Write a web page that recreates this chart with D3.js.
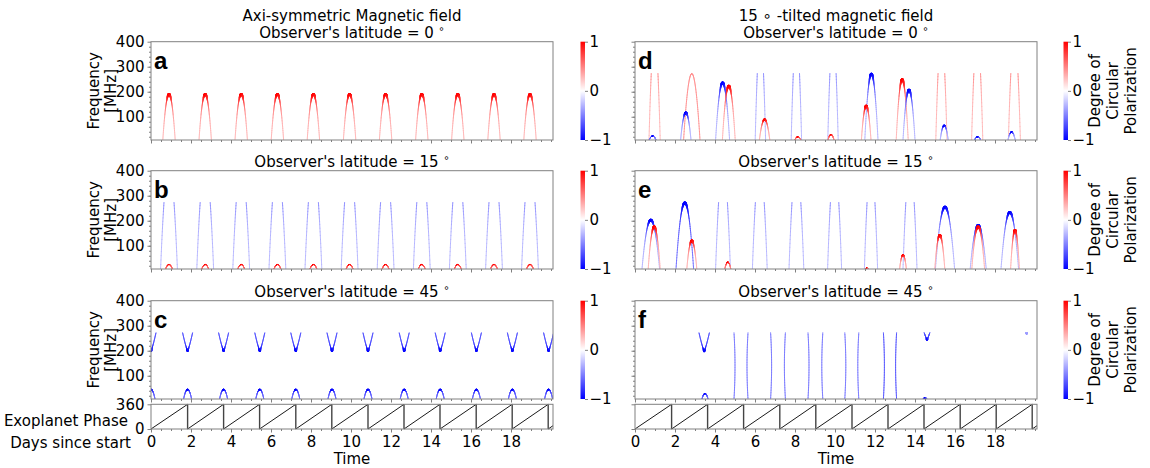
<!DOCTYPE html>
<html>
<head>
<meta charset="utf-8">
<script src="https://cdn.jsdelivr.net/npm/d3@7/dist/d3.min.js"></script>
<style>
  body { margin: 0; background: #fff; }
  text { font-family: "DejaVu Sans", sans-serif; fill: #000; }
</style>
</head>
<body>
<svg id="chart" width="1150" height="468"></svg>
<script>
// --- 1. DATA ---
const dayTicks = [0, 2, 4, 6, 8, 10, 12, 14, 16, 18];
const freqTicks = [100, 200, 300, 400];
const phaseTicks = [0, 360];
const cbarTicks = [-1, 0, 1];
const cbarLabels = ["\u22121", "0", "1"];
const colTitles = ["Axi-symmetric Magnetic field", "15 \u2218 -tilted magnetic field"];
const latitudes = [0, 15, 45];
const panelLetters = [["a", "b", "c"], ["d", "e", "f"]];

// exoplanet phase: day of each wrap to 0, then last (day, phase)
const phaseResets = [0, 1.83, 3.63, 5.43, 7.24, 9.04, 10.85, 12.65, 14.45, 16.26, 18.06, 19.86];
const phaseEnd = [20.1, 48];

// caps (inverted arcs): [centre day, half-width day, peak MHz, polarization, intensity floor]
const capsA = [
  [0.90, 0.31, 190, 1], [2.71, 0.31, 190, 1], [4.51, 0.31, 190, 1], [6.32, 0.31, 190, 1],
  [8.12, 0.31, 190, 1], [9.93, 0.31, 190, 1], [11.73, 0.31, 190, 1], [13.54, 0.31, 190, 1],
  [15.34, 0.31, 190, 1], [17.15, 0.31, 190, 1], [18.95, 0.31, 190, 1]
];
const capsB = [
  [0.90, 0.42, 420, -1], [2.71, 0.42, 420, -1], [4.51, 0.42, 420, -1], [6.32, 0.42, 420, -1],
  [8.12, 0.42, 420, -1], [9.93, 0.42, 420, -1], [11.73, 0.42, 420, -1], [13.54, 0.42, 420, -1],
  [15.34, 0.42, 420, -1], [17.15, 0.42, 420, -1], [18.95, 0.42, 420, -1],
  [0.90, 0.17, 25, 1, 0.6], [2.71, 0.17, 25, 1, 0.6], [4.51, 0.17, 25, 1, 0.6], [6.32, 0.17, 25, 1, 0.6],
  [8.12, 0.17, 25, 1, 0.6], [9.93, 0.17, 25, 1, 0.6], [11.73, 0.17, 25, 1, 0.6], [13.54, 0.17, 25, 1, 0.6],
  [15.34, 0.17, 25, 1, 0.6], [17.15, 0.17, 25, 1, 0.6], [18.95, 0.17, 25, 1, 0.6]
];
const capsC = [
  [0.00, 0.2, 45, -1, 0.6], [1.83, 0.2, 45, -1, 0.6], [3.63, 0.2, 45, -1, 0.6], [5.44, 0.2, 45, -1, 0.6],
  [7.24, 0.2, 45, -1, 0.6], [9.05, 0.2, 45, -1, 0.6], [10.85, 0.2, 45, -1, 0.6], [12.66, 0.2, 45, -1, 0.6],
  [14.46, 0.2, 45, -1, 0.6], [16.27, 0.2, 45, -1, 0.6], [18.07, 0.2, 45, -1, 0.6], [19.88, 0.2, 45, -1, 0.6]
];
const capsD = [
  [0.98, 0.28, 420, 1], [0.88, 0.17, 23, -1, 0.5],
  [2.84, 0.41, 272, 0.45, 1], [2.54, 0.26, 116, -1],
  [4.38, 0.35, 236, -1], [4.69, 0.32, 223, 1],
  [6.27, 0.26, 420, -1], [6.48, 0.26, 89, 1],
  [8.07, 0.26, 420, -1], [8.14, 0.15, 20, 1, 0.5],
  [9.90, 0.26, 420, -1], [9.80, 0.15, 29, 1, 0.5],
  [11.82, 0.33, 271, -1], [11.56, 0.24, 143, 1],
  [13.36, 0.30, 249, 1], [13.70, 0.30, 207, -1],
  [15.32, 0.28, 420, 1], [15.46, 0.20, 65, -1],
  [17.11, 0.28, 420, 1], [17.13, 0.15, 20, -1, 0.5],
  [18.97, 0.30, 420, 1], [18.83, 0.18, 39, -1]
];
const capsE = [
  [0.79, 0.44, 203, -1], [0.96, 0.30, 176, 1],
  [2.49, 0.44, 272, -1, 0.6], [2.84, 0.25, 120, 1],
  [4.40, 0.37, 420, -1], [4.64, 0.15, 34, 1, 0.5],
  [6.24, 0.37, 420, -1],
  [8.07, 0.37, 420, -1],
  [9.98, 0.35, 420, -1],
  [11.80, 0.33, 420, -1], [11.60, 0.08, 12, 1, 0.5],
  [13.75, 0.35, 420, -1], [13.40, 0.17, 63, 1],
  [15.50, 0.48, 255, -1], [15.24, 0.25, 142, 1],
  [17.16, 0.40, 182, -1], [17.16, 0.32, 176, 1],
  [18.74, 0.44, 234, -1], [19.00, 0.22, 162, 1]
];
const capsF = [
  [3.50, 0.15, 29, -1, 0.6], [14.50, 0.10, 12, -1, 0.6]
];

// cups (V shapes opening up to the cutoff): [centre day, half-width at top, tip MHz, polarization, floor]
const cupsC = [
  [0.00, 0.25, 200, -1, 0.7], [1.83, 0.25, 200, -1, 0.7], [3.63, 0.25, 200, -1, 0.7], [5.44, 0.25, 200, -1, 0.7],
  [7.24, 0.25, 200, -1, 0.7], [9.05, 0.25, 200, -1, 0.7], [10.85, 0.25, 200, -1, 0.7], [12.66, 0.25, 200, -1, 0.7],
  [14.46, 0.25, 200, -1, 0.7], [16.27, 0.25, 200, -1, 0.7], [18.07, 0.25, 200, -1, 0.7], [19.88, 0.25, 200, -1, 0.7]
];
const cupsF = [
  [3.46, 0.26, 199, -1, 0.7], [14.60, 0.14, 245, -1, 0.7], [19.58, 0.03, 266, -0.4, 1]
];

// near-vertical line pairs: [centre day, half-width day, polarization]
const pairsF = [
  [5.30, 0.35, -0.55], [7.15, 0.37, -0.55], [9.02, 0.37, -0.55], [10.84, 0.35, -0.55], [12.75, 0.33, -0.7]
];

// --- 2. SETUP ---
const svg = d3.select("#chart");
const color = d3.scaleLinear().domain([-1, 0, 1]).range(["#0000ff", "#ffffff", "#ff0000"]);
const fMin = 7, fCut = 272, dayMax = 20.1;
const frameColor = "#808080";
const cols = [{ x0: 151, x1: 553, cb: 580.5 }, { x0: 635, x1: 1037, cb: 1063.5 }];
const rows = [{ y0: 41.7, y1: 140 }, { y0: 170.7, y1: 269 }, { y0: 300.7, y1: 399 }];
const phaseRow = { y0: 404.3, y1: 429 };

const panels = [
  { col: 0, row: 0, caps: capsA, cups: [], pairs: [] },
  { col: 0, row: 1, caps: capsB, cups: [], pairs: [] },
  { col: 0, row: 2, caps: capsC, cups: cupsC, pairs: [] },
  { col: 1, row: 0, caps: capsD, cups: [], pairs: [] },
  { col: 1, row: 1, caps: capsE, cups: [], pairs: [] },
  { col: 1, row: 2, caps: capsF, cups: cupsF, pairs: pairsF }
];

// gradient for the colour bars
const defs = svg.append("defs");
const grad = defs.append("linearGradient").attr("id", "bwr")
  .attr("x1", 0).attr("y1", 1).attr("x2", 0).attr("y2", 0);
[[0, "#0000ff"], [0.5, "#ffffff"], [1, "#ff0000"]].forEach(s =>
  grad.append("stop").attr("offset", s[0]).attr("stop-color", s[1]));

// --- 3. CURVE HELPERS ---
function capPoints(a, n = 90) {
  const pts = [];
  const k0 = Math.min(1, (a[2] - fMin) / 120); // small bumps stay thin
  for (let k = 0; k <= n; k++) {
    const u = -1 + 2 * k / n;
    const h = 1 - u * u;
    pts.push({ t: a[0] + u * a[1], f: fMin + (a[2] - fMin) * h, h, k: k0 });
  }
  return pts;
}
function cupPoints(a, n = 60) {
  const pts = [];
  for (let k = 0; k <= n; k++) {
    const u = -1 + 2 * k / n;
    const s = Math.pow(Math.abs(u), 1.25);
    pts.push({ t: a[0] + u * a[1], f: a[2] + (fCut - a[2]) * s, h: 1 - s, k: 1 });
  }
  return pts;
}
function pairPoints(a, side, n = 40) {
  const pts = [];
  for (let k = 0; k <= n; k++) {
    const u = k / n;
    const bow = 0.05 * 4 * u * (1 - u);
    pts.push({ t: a[0] + side * (a[1] - bow), f: fMin + (fCut - fMin) * u, h: 0, k: 0 });
  }
  return pts;
}

function drawCurve(g, x, y, pts, v, floor) {
  for (let i = 0; i < pts.length - 1; i++) {
    let p = pts[i], q = pts[i + 1];
    if (p.f > fCut && q.f > fCut) continue;
    if (p.f > fCut || q.f > fCut) {
      const lo = p.f <= fCut ? p : q, hi = p.f <= fCut ? q : p;
      const s = (fCut - lo.f) / (hi.f - lo.f);
      const cut = { t: lo.t + s * (hi.t - lo.t), f: fCut, h: lo.h + s * (hi.h - lo.h), k: lo.k };
      if (p === lo) q = cut; else p = cut;
    }
    const h = (p.h + q.h) / 2;
    const val = v * (floor + (1 - floor) * Math.pow(h, 3));
    const w = 0.85 + 1.7 * Math.pow(h, 10) * Math.pow(Math.abs(v), 4) * p.k;
    g.append("line")
      .attr("x1", x(p.t)).attr("y1", y(p.f))
      .attr("x2", x(q.t)).attr("y2", y(q.f))
      .attr("stroke", color(val))
      .attr("stroke-width", w)
      .attr("stroke-linecap", "round");
  }
}

function styleAxis(sel, fontSize) {
  sel.select(".domain").remove();
  sel.selectAll(".tick line").attr("stroke", frameColor);
  sel.selectAll(".tick text").attr("font-size", fontSize)
    .attr("font-family", "'DejaVu Sans', sans-serif").attr("fill", "#000");
}

// --- 4. PANELS ---
panels.forEach((p, idx) => {
  const c = cols[p.col], r = rows[p.row];
  const x = d3.scaleLinear().domain([0, dayMax]).range([c.x0, c.x1]);
  const y = d3.scaleLinear().domain([fMin, 400]).range([r.y1, r.y0]);

  defs.append("clipPath").attr("id", "clip" + idx)
    .append("rect").attr("x", c.x0).attr("y", r.y0)
    .attr("width", c.x1 - c.x0).attr("height", r.y1 - r.y0);
  const g = svg.append("g").attr("clip-path", `url(#clip${idx})`);

  p.pairs.forEach(a => {
    drawCurve(g, x, y, pairPoints(a, -1), a[2], 1);
    drawCurve(g, x, y, pairPoints(a, 1), a[2], 1);
  });
  p.caps.forEach(a => drawCurve(g, x, y, capPoints(a), a[3], a[4] === undefined ? 0.3 : a[4]));
  p.cups.forEach(a => drawCurve(g, x, y, cupPoints(a), a[3], a[4] === undefined ? 0.3 : a[4]));

  // axes
  const yMinor = svg.append("g").attr("transform", `translate(${c.x0},0)`)
    .call(d3.axisLeft(y).tickValues(d3.range(20, 400, 20)).tickSize(2).tickFormat(""));
  styleAxis(yMinor, 15);
  const yAxis = svg.append("g").attr("transform", `translate(${c.x0},0)`)
    .call(d3.axisLeft(y).tickValues(freqTicks).tickSize(3.5).tickPadding(3)
      .tickFormat(p.col === 0 ? d3.format("d") : ""));
  styleAxis(yAxis, 15);
  const xMinor = svg.append("g").attr("transform", `translate(0,${r.y1})`)
    .call(d3.axisBottom(x).tickValues(d3.range(0, 20.01, 0.5)).tickSize(2).tickFormat(""));
  styleAxis(xMinor, 15);
  const xAxis = svg.append("g").attr("transform", `translate(0,${r.y1})`)
    .call(d3.axisBottom(x).tickValues(dayTicks).tickSize(3.5).tickFormat(""));
  styleAxis(xAxis, 15);

  svg.append("rect").attr("x", c.x0).attr("y", r.y0)
    .attr("width", c.x1 - c.x0).attr("height", r.y1 - r.y0)
    .attr("fill", "none").attr("stroke", frameColor).attr("stroke-width", 1);

  // panel letter
  svg.append("text").attr("x", c.x0 + 3).attr("y", r.y0 + 27)
    .style("font-family", "'Liberation Sans', Arial, sans-serif")
    .attr("font-weight", "bold").attr("font-size", 24)
    .text(panelLetters[p.col][p.row]);

  // title
  const cx = (c.x0 + c.x1) / 2;
  const tt = svg.append("text").attr("x", cx).attr("y", r.y0 - 4)
    .attr("text-anchor", "middle").attr("font-size", 15);
  tt.append("tspan").text(`Observer's latitude = ${latitudes[p.row]} `);
  tt.append("tspan").attr("font-size", 10).attr("dy", -6).text("\u2218");
  if (p.row === 0) {
    svg.append("text").attr("x", cx).attr("y", r.y0 - 21)
      .attr("text-anchor", "middle").attr("font-size", 15)
      .text(colTitles[p.col]);
  }

  // colour bar
  const cb = d3.scaleLinear().domain([-1, 1]).range([r.y1, r.y0]);
  svg.append("rect").attr("x", c.cb).attr("y", r.y0)
    .attr("width", 4.5).attr("height", r.y1 - r.y0)
    .attr("fill", "url(#bwr)");
  const cbAxis = svg.append("g").attr("transform", `translate(${c.cb + 4.5},0)`)
    .call(d3.axisRight(cb).tickValues(cbarTicks).tickSize(3).tickPadding(1.5)
      .tickFormat((d, i) => cbarLabels[i]));
  styleAxis(cbAxis, 15);

  const ly = (r.y0 + r.y1) / 2;
  if (p.col === 0) {
    svg.append("text").attr("transform", `translate(99,${ly}) rotate(-90)`)
      .attr("text-anchor", "middle").attr("font-size", 15).text("Frequency");
    svg.append("text").attr("transform", `translate(116,${ly}) rotate(-90)`)
      .attr("text-anchor", "middle").attr("font-size", 15).text("[MHz]");
  } else {
    ["Degree of", "Circular", "Polarization"].forEach((s, i) => {
      svg.append("text").attr("transform", `translate(${1100 + i * 18},${ly}) rotate(-90)`)
        .attr("text-anchor", "middle").attr("font-size", 15).text(s);
    });
  }
});

// --- 5. PHASE STRIPS ---
cols.forEach((c, ci) => {
  const x = d3.scaleLinear().domain([0, dayMax]).range([c.x0, c.x1]);
  const y = d3.scaleLinear().domain([0, 360]).range([phaseRow.y1, phaseRow.y0]);
  const g = svg.append("g");
  phaseResets.forEach((t0, i) => {
    const next = i < phaseResets.length - 1 ? [phaseResets[i + 1], 360] : phaseEnd;
    g.append("line").attr("x1", x(t0)).attr("y1", y(0))
      .attr("x2", x(next[0])).attr("y2", y(next[1]))
      .attr("stroke", "#000").attr("stroke-width", 0.9);
    if (i > 0) {
      g.append("line").attr("x1", x(t0)).attr("y1", y(0))
        .attr("x2", x(t0)).attr("y2", y(360))
        .attr("stroke", "#444").attr("stroke-width", 1.4);
    }
  });

  const yAxis = svg.append("g").attr("transform", `translate(${c.x0},0)`)
    .call(d3.axisLeft(y).tickValues(phaseTicks).tickSize(3.5).tickPadding(3)
      .tickFormat(ci === 0 ? d3.format("d") : ""));
  styleAxis(yAxis, 15);
  const xMinor = svg.append("g").attr("transform", `translate(0,${phaseRow.y1})`)
    .call(d3.axisBottom(x).tickValues(d3.range(0, 20.01, 0.5)).tickSize(2).tickFormat(""));
  styleAxis(xMinor, 15);
  const xAxis = svg.append("g").attr("transform", `translate(0,${phaseRow.y1})`)
    .call(d3.axisBottom(x).tickValues(dayTicks).tickSize(3.5).tickPadding(4));
  styleAxis(xAxis, 15);

  svg.append("rect").attr("x", c.x0).attr("y", phaseRow.y0)
    .attr("width", c.x1 - c.x0).attr("height", phaseRow.y1 - phaseRow.y0)
    .attr("fill", "none").attr("stroke", frameColor).attr("stroke-width", 1);

  svg.append("text").attr("x", (c.x0 + c.x1) / 2).attr("y", 464)
    .attr("text-anchor", "middle").attr("font-size", 15).text("Time");
  if (ci === 0) {
    svg.append("text").attr("x", 128).attr("y", 426)
      .attr("text-anchor", "end").attr("font-size", 15).text("Exoplanet Phase");
    svg.append("text").attr("x", 131).attr("y", 447.5)
      .attr("text-anchor", "end").attr("font-size", 15).text("Days since start");
  }
});
</script>
</body>
</html>
